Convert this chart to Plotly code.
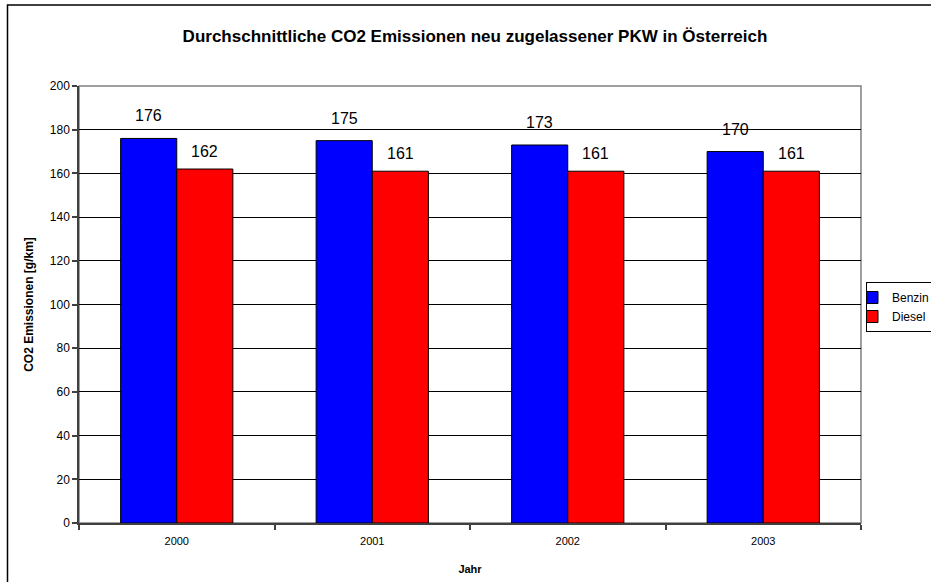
import plotly.graph_objects as go

years = [2000, 2001, 2002, 2003]
benzin = [176, 175, 173, 170]
diesel = [162, 161, 161, 161]
series_names = ["Benzin", "Diesel"]
y_ticks = [0, 20, 40, 60, 80, 100, 120, 140, 160, 180, 200]

bargap = 0.426
half = (1 - bargap) / 4  # center offset of each bar in a 2-bar group

fig = go.Figure()
fig.add_trace(go.Bar(x=years, y=benzin, name=series_names[0],
                     marker=dict(color="#0000FF", line=dict(color="#000000", width=1))))
fig.add_trace(go.Bar(x=years, y=diesel, name=series_names[1],
                     marker=dict(color="#FF0000", line=dict(color="#000000", width=1))))

annotations = []
for yr, b, d in zip(years, benzin, diesel):
    annotations.append(dict(x=yr - half, y=b, xref="x", yref="y", text=str(b),
                            showarrow=False, yanchor="bottom", yshift=12,
                            font=dict(size=16, color="#000000")))
    annotations.append(dict(x=yr + half, y=d, xref="x", yref="y", text=str(d),
                            showarrow=False, yanchor="bottom", yshift=7,
                            font=dict(size=16, color="#000000")))

W, H = 931, 582
ml, mr, mt, mb = 79, W - 861, 86, H - 523
pw, ph = W - ml - mr, H - mt - mb
def px(xp):
    return (xp - ml) / pw
def py(yp):
    return (H - mb - yp) / ph

shapes = [
    # outer chart frame
    dict(type="rect", xref="paper", yref="paper",
         x0=px(7.5), x1=px(1000), y0=py(700), y1=py(5),
         line=dict(color="#000000", width=1.5), fillcolor="rgba(0,0,0,0)", layer="below"),
    # plot area border (top/right gray)
    dict(type="rect", xref="paper", yref="paper", x0=0, x1=1, y0=0, y1=1,
         line=dict(color="#808080", width=1.5), fillcolor="rgba(0,0,0,0)", layer="below"),
]

fig.update_layout(
    width=W, height=H,
    margin=dict(l=ml, r=mr, t=mt, b=mb, pad=0, autoexpand=False),
    paper_bgcolor="#FFFFFF", plot_bgcolor="#FFFFFF",
    barmode="group", bargap=bargap, bargroupgap=0,
    font=dict(family="Liberation Sans, Arial, sans-serif", color="#000000", size=12),
    title=dict(text="<b>Durchschnittliche CO2 Emissionen neu zugelassener PKW in Österreich</b>",
               x=475 / W, xanchor="center", xref="container", y=1 - 36 / H, yanchor="middle",
               yref="container", font=dict(size=17, color="#000000")),
    xaxis=dict(range=[years[0] - 0.5, years[-1] + 0.5], tickvals=years,
               ticktext=[str(y) for y in years], ticks="", showgrid=False,
               showline=True, linecolor="#404040", linewidth=1.5, zeroline=False,
               tickfont=dict(size=11), ticklabelstandoff=7,
               minor=dict(tickvals=[y + 0.5 for y in years[:-1]] + [years[0] - 0.5, years[-1] + 0.5],
                          ticks="outside", ticklen=5, tickcolor="#404040", tickwidth=1.5,
                          showgrid=False),
               title=dict(text="<b>Jahr</b>", font=dict(size=11), standoff=19)),
    yaxis=dict(range=[0, 200], tickvals=y_ticks, showgrid=True, gridcolor="#000000", gridwidth=1,
               showline=True, linecolor="#404040", linewidth=1.5, zeroline=False,
               ticks="outside", ticklen=5, tickcolor="#404040", tickwidth=1.5,
               tickfont=dict(size=12),
               title=dict(text="<b>CO2 Emissionen [g/km]</b>", font=dict(size=12), standoff=14)),
    legend=dict(x=866 / W, xanchor="left", y=1 - 282 / H, yanchor="top",
                xref="container", yref="container",
                bordercolor="#000000", borderwidth=1, bgcolor="#FFFFFF",
                font=dict(size=12), itemwidth=30, indentation=-15, tracegroupgap=0),
    showlegend=True,
    annotations=annotations,
    shapes=shapes,
)

fig.write_html("out.html", config={"displayModeBar": False},
               post_script="document.body.style.margin='0';document.body.style.overflow='hidden';")
